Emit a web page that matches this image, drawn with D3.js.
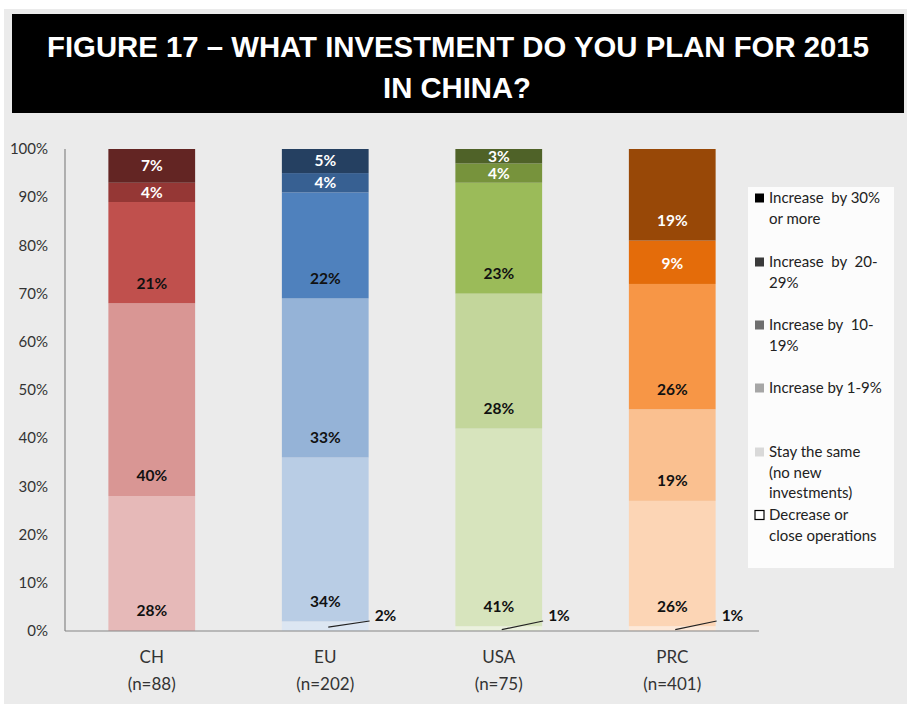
<!DOCTYPE html>
<html>
<head>
<meta charset="utf-8">
<script src="https://cdn.jsdelivr.net/npm/d3@7"></script>
<style>
  body { margin: 0; background: #ffffff; }
  svg text { font-family: Lato, "Open Sans", sans-serif; }
</style>
</head>
<body>
<svg id="chart"></svg>
<script>
// data, bottom segment first
var categories = ["CH", "EU", "USA", "PRC"];
var sampleSizes = ["(n=88)", "(n=202)", "(n=75)", "(n=401)"];
var decrease = [0, 2, 1, 1];
var staySame = [28, 34, 41, 26];
var inc1to9 = [40, 33, 28, 19];
var inc10to19 = [21, 22, 23, 26];
var inc20to29 = [4, 4, 4, 9];
var inc30plus = [7, 5, 3, 19];
var seriesKeys = ["decrease", "stay", "inc1", "inc10", "inc20", "inc30"];
var yTicks = [0, 10, 20, 30, 40, 50, 60, 70, 80, 90, 100];

// one colour ramp per country, same order as seriesKeys
var palette = {
  CH:  ["#f2dcdb", "#e6b9b8", "#d99694", "#c0504d", "#953735", "#632523"],
  EU:  ["#dce6f2", "#b9cde5", "#95b3d7", "#4f81bd", "#376092", "#254061"],
  USA: ["#ebf1de", "#d7e4bd", "#c3d69b", "#9bbb59", "#77933c", "#4f6228"],
  PRC: ["#fde9d9", "#fcd5b5", "#fac090", "#f79646", "#e46c0a", "#984807"]
};

var legendItems = [
  { lines: ["Increase  by 30%", "or more"], color: "#000000" },
  { lines: ["Increase  by  20-", "29%"], color: "#3a3a3a" },
  { lines: ["Increase by  10-", "19%"], color: "#6f6f6f" },
  { lines: ["Increase by 1-9%"], color: "#a6a6a6" },
  { lines: ["Stay the same", "(no new", "investments)"], color: "#d9d9d9" },
  { lines: ["Decrease or", "close operations"], color: "#ffffff" }
];

var rows = categories.map(function(c, i) {
  return { cat: c, decrease: decrease[i], stay: staySame[i], inc1: inc1to9[i],
           inc10: inc10to19[i], inc20: inc20to29[i], inc30: inc30plus[i] };
});

var W = 907, H = 704;
var svg = d3.select("#chart").attr("width", W).attr("height", H);

// backgrounds
svg.append("rect").attr("x", 4).attr("y", 9).attr("width", W - 4).attr("height", H - 9).attr("fill", "#ebebeb");
svg.append("rect").attr("x", 12).attr("y", 14).attr("width", 892).attr("height", 99).attr("fill", "#000");

svg.append("text").attr("x", 458).attr("y", 57)
  .attr("text-anchor", "middle").attr("fill", "#fff")
  .style("font-family", "'Liberation Sans', Arial, sans-serif").style("font-weight", "bold").style("font-size", "30px")
  .attr("textLength", 822).attr("lengthAdjust", "spacingAndGlyphs")
  .text("FIGURE 17 \u2013 WHAT INVESTMENT DO YOU PLAN FOR 2015");
svg.append("text").attr("x", 457).attr("y", 98)
  .attr("text-anchor", "middle").attr("fill", "#fff")
  .style("font-family", "'Liberation Sans', Arial, sans-serif").style("font-weight", "bold").style("font-size", "30px")
  .attr("textLength", 148).attr("lengthAdjust", "spacingAndGlyphs")
  .text("IN CHINA?");

var x = d3.scaleBand().domain(categories).range([65, 759]).paddingInner(0.5).paddingOuter(0.25);
var y = d3.scaleLinear().domain([0, 100]).range([631, 149]);

// y tick labels
svg.selectAll(".ytick").data(yTicks).enter().append("text")
  .attr("class", "ytick")
  .attr("x", 48).attr("y", function(d) { return y(d); })
  .attr("dy", "0.35em").attr("text-anchor", "end")
  .style("font-size", "15px").attr("fill", "#333")
  .text(function(d) { return d + "%"; });

var stack = d3.stack().keys(seriesKeys);
var series = stack(rows);

var layers = svg.selectAll(".layer").data(series).enter().append("g").attr("class", "layer");

layers.selectAll("rect").data(function(s) { return s.map(function(d) { return { s: s, d: d }; }); })
  .enter().append("rect")
  .attr("x", function(o) { return x(o.d.data.cat); })
  .attr("width", x.bandwidth())
  .attr("y", function(o) { return y(o.d[1]); })
  .attr("height", function(o) { return y(o.d[0]) - y(o.d[1]); })
  .attr("fill", function(o) { return palette[o.d.data.cat][o.s.index]; });

// labels inside the segments (not the decrease series)
series.forEach(function(s) {
  if (s.key === "decrease") return;
  s.forEach(function(d) {
    var v = d[1] - d[0];
    if (v <= 0) return;
    var bottom = y(d[0]), top = y(d[1]);
    var ly = Math.max((top + bottom) / 2, bottom - 20);
    svg.append("text")
      .attr("x", x(d.data.cat) + x.bandwidth() / 2)
      .attr("y", ly).attr("dy", "0.35em")
      .attr("text-anchor", "middle")
      .style("font-size", "15.5px").style("font-weight", "bold")
      .attr("fill", s.index >= 4 ? "#fff" : "#111")
      .text(v + "%");
  });
});

// decrease labels pulled out with a leader line
series[0].forEach(function(d) {
  var v = d[1] - d[0];
  if (v <= 0) return;
  var cx = x(d.data.cat) + x.bandwidth() / 2;
  var x2 = x(d.data.cat) + x.bandwidth() + 1;
  var y1 = (y(d[0]) + y(d[1])) / 2 + 1;
  svg.append("line")
    .attr("x1", cx + 3).attr("y1", y1)
    .attr("x2", x2).attr("y2", 621)
    .attr("stroke", "#222").attr("stroke-width", 1.2);
  svg.append("text")
    .attr("x", x2 + 5).attr("y", 616).attr("dy", "0.35em")
    .style("font-size", "15.5px").style("font-weight", "bold").attr("fill", "#111")
    .text(v + "%");
});

// axes lines
svg.append("line").attr("x1", 65).attr("x2", 65).attr("y1", 149).attr("y2", 631)
  .attr("stroke", "#868686").attr("stroke-width", 1.2);
svg.append("line").attr("x1", 65).attr("x2", 759).attr("y1", 631).attr("y2", 631)
  .attr("stroke", "#868686").attr("stroke-width", 1.2);

// category labels
categories.forEach(function(c, i) {
  var cx = x(c) + x.bandwidth() / 2;
  svg.append("text").attr("x", cx).attr("y", 657).attr("dy", "0.35em")
    .attr("text-anchor", "middle").style("font-size", "17px").attr("fill", "#333").text(c);
  svg.append("text").attr("x", cx).attr("y", 684).attr("dy", "0.35em")
    .attr("text-anchor", "middle").style("font-size", "17px").attr("fill", "#333").text(sampleSizes[i]);
});

// legend
svg.append("rect").attr("x", 748).attr("y", 187).attr("width", 146).attr("height", 381).attr("fill", "#fcfcfc");
var legendY = [198, 262, 325, 388, 452, 515];
legendItems.forEach(function(item, i) {
  var ly = legendY[i];
  svg.append("rect").attr("x", 755).attr("y", ly - 4.5).attr("width", 9).attr("height", 9)
    .attr("fill", item.color)
    .attr("stroke", i === 5 ? "#000" : "none").attr("stroke-width", 1.2);
  item.lines.forEach(function(t, j) {
    svg.append("text").attr("x", 769).attr("y", ly + j * 20.5).attr("dy", "0.35em")
      .style("font-size", "15px").style("white-space", "pre").attr("fill", "#222").text(t);
  });
});
</script>
</body>
</html>
